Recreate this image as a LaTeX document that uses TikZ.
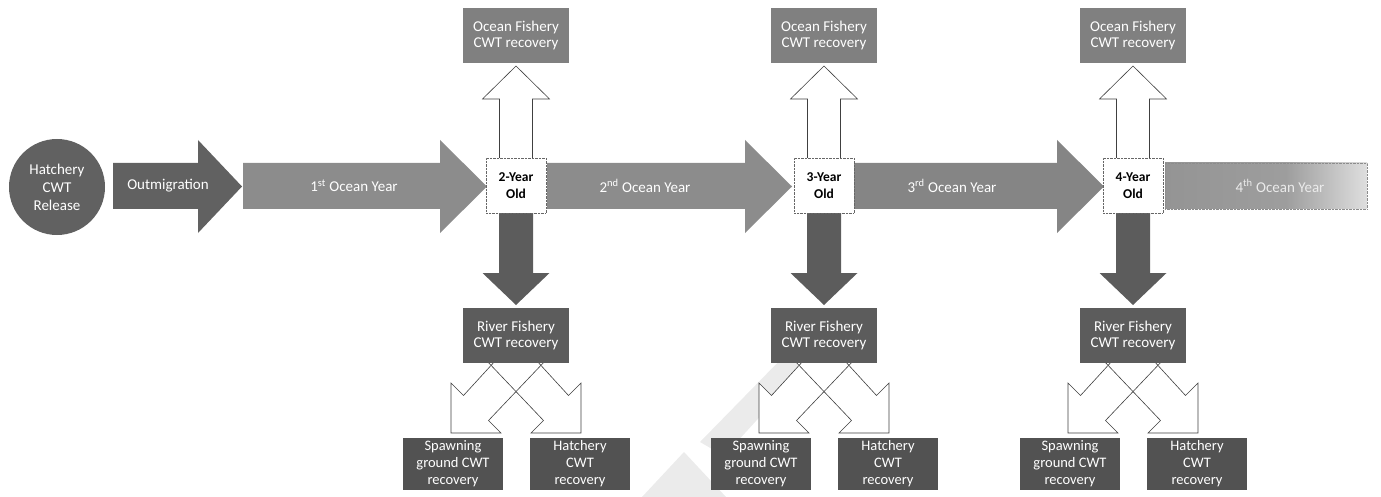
\documentclass[tikz,border=0pt]{standalone}
\usepackage{fontspec}
\setmainfont{Carlito}
\definecolor{cCirc}{gray}{0.38}
\definecolor{cOut}{gray}{0.38}
\definecolor{cSea}{gray}{0.55}
\definecolor{cOcean}{gray}{0.50}
\definecolor{cRiver}{gray}{0.36}
\definecolor{cDown}{gray}{0.36}
\definecolor{cBot}{gray}{0.32}
\definecolor{cFaint}{gray}{0.92}
\pgfdeclarehorizontalshading{fadeout}{100bp}{color(0bp)=(cSea); color(55bp)=(cSea!85!white); color(85bp)=(white); color(100bp)=(white)}
\begin{document}
\begin{tikzpicture}[x=1pt,y=-1pt,
  txt/.style={font=\fontsize{15}{16}\selectfont, text=white, align=center, inner sep=0pt},
  gbox/.style={txt, minimum width=106pt, minimum height=55pt},
  bbox/.style={txt, font=\fontsize{14.5}{17}\selectfont, minimum width=100pt, minimum height=52pt, fill=cBot},
  agebox/.style={draw=black!60, densely dotted, fill=white, minimum width=60pt, minimum height=55pt,
    font=\bfseries\fontsize{13.5}{17}\selectfont, align=center, inner sep=0pt},
  outl/.style={draw=black!75, line width=0.6pt, fill=white, line join=miter},
]
\useasboundingbox (0,0) rectangle (1381,497);
% faint background marks
\fill[cFaint] (642,497) -- (684,452) -- (726,497) -- cycle;
\fill[cFaint] (700,442) -- (788,352) -- (808,364) -- (724,456) -- cycle;
% horizontal block arrows
\newcommand{\hblock}[4]{\fill[#4] (#1,163) -- (#2,163) -- (#2,140) -- (#3,186.5) -- (#2,233) -- (#2,209) -- (#1,209) -- cycle;}
\hblock{113}{198}{242}{cOut}
\hblock{243}{440}{487}{cSea}
\hblock{547}{745}{792}{cSea}
\hblock{854}{1057}{1104}{cSea!95!black}
\shade[shading=fadeout] (1165,163) rectangle (1367,209);
\draw[black!45, densely dotted] (1165,163) rectangle (1367,209);
% circle
\node[circle, fill=cCirc, minimum size=96pt, txt, font=\fontsize{15}{18}\selectfont] (rel) at (57,187) {Hatchery\\CWT\\Release};
% arrow labels
\node[txt] (om) at (168,186) {Outmigration};
\node[txt] (y1) at (354,186) {1\textsuperscript{st} Ocean Year};
\node[txt] (y2) at (645,186) {2\textsuperscript{nd} Ocean Year};
\node[txt] (y3) at (952,186) {3\textsuperscript{rd} Ocean Year};
\node[txt, text=white!92!black] (y4) at (1280,186) {4\textsuperscript{th} Ocean Year};
% groups
\foreach \c/\n in {516/2, 824/3, 1133/4}{
  % up arrow (white outline)
  \draw[outl] (\c-16.5,160) -- (\c-16.5,99) -- (\c-33.5,99) -- (\c,66) -- (\c+33.5,99) -- (\c+16.5,99) -- (\c+16.5,160);
  % down arrow (dark)
  \fill[cDown] (\c-17,211) -- (\c-17,273) -- (\c-33.5,273) -- (\c,305) -- (\c+33.5,273) -- (\c+17,273) -- (\c+17,211) -- cycle;
  % bent arrows (fill both, then outline both)
  \fill[white] (\c-30,360) -- (\c+27.5,420.5) -- (\c+15,433) -- (\c+65,433) -- (\c+65,383) -- (\c+52.5,395.5) -- (\c+20,360) -- cycle;
  \fill[white] (\c+30,360) -- (\c-27.5,420.5) -- (\c-15,433) -- (\c-65,433) -- (\c-65,383) -- (\c-52.5,395.5) -- (\c-20,360) -- cycle;
  \draw[black!75, line width=0.6pt, line join=miter] (\c-30,360) -- (\c+27.5,420.5) -- (\c+15,433) -- (\c+65,433) -- (\c+65,383) -- (\c+52.5,395.5) -- (\c+20,360);
  \draw[black!75, line width=0.6pt, line join=miter] (\c+30,360) -- (\c-27.5,420.5) -- (\c-15,433) -- (\c-65,433) -- (\c-65,383) -- (\c-52.5,395.5) -- (\c-20,360);
  % boxes
  \node[agebox] (a\n) at (\c,185.5) {\n-Year\\Old};
  \node[gbox, fill=cOcean] (o\n) at (\c,35.5) {Ocean Fishery\\CWT recovery};
  \node[gbox, fill=cRiver] (r\n) at (\c,335.5) {River Fishery\\CWT recovery};
  \node[bbox] (s\n) at (\c-63,464) {Spawning\\ground CWT\\recovery};
  \node[bbox] (h\n) at (\c+64,464) {Hatchery\\CWT\\recovery};
}
\end{tikzpicture}
\end{document}
